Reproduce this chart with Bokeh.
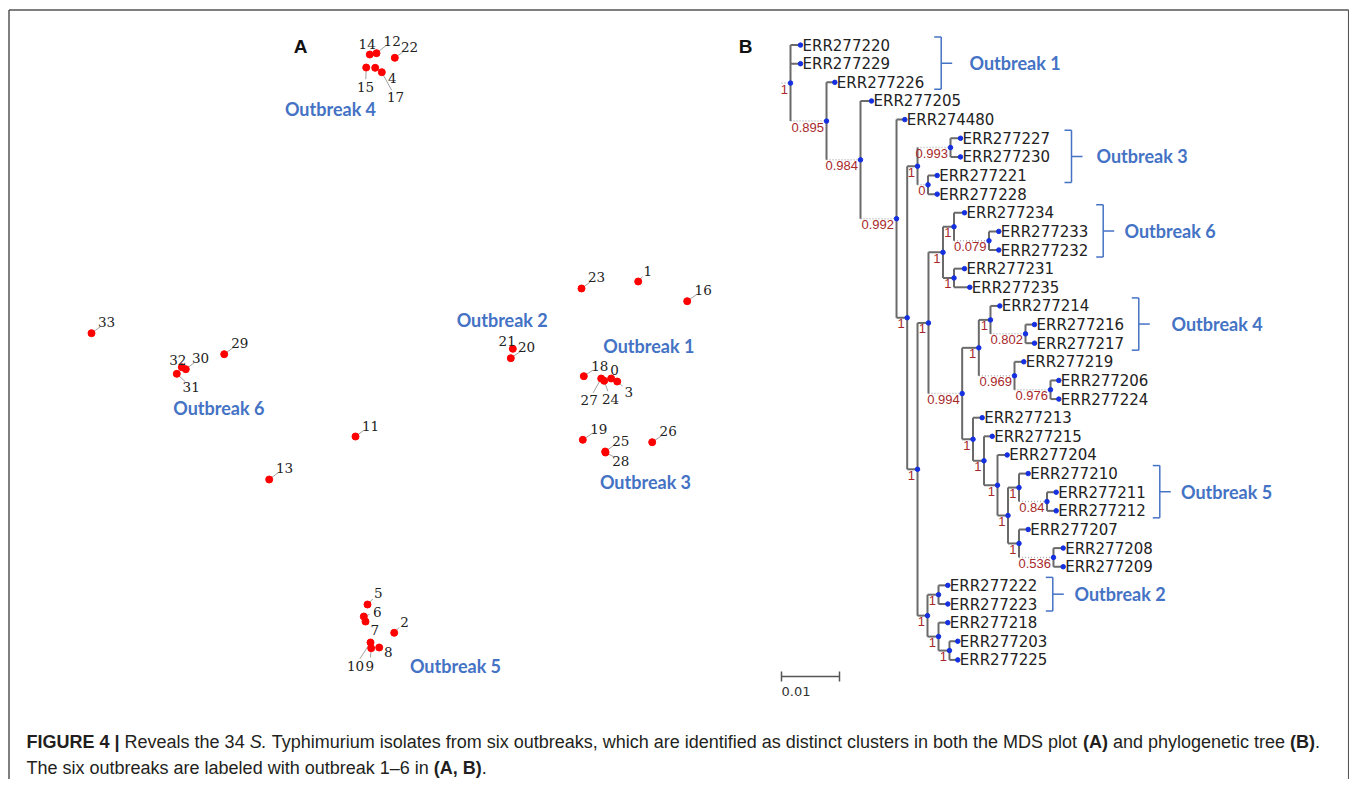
from bokeh.plotting import figure
from bokeh.models import Range1d
from bokeh.core.properties import value
from bokeh.embed import file_html
from bokeh.resources import INLINE

# ---------------- Panel A : MDS coordinates ----------------
mds_id = [str(i) for i in range(34)]
mds_x = [610.7, 637.7, 393.7, 616.7, 374.7, 367.0, 363.3, 365.0, 378.7, 370.7,
         370.0, 355.0, 376.0, 268.7, 369.3, 365.7, 686.7, 381.3, 583.3, 582.3,
         510.3, 512.3, 394.3, 581.0, 603.7, 604.7, 651.7, 600.7, 605.0, 223.7,
         185.3, 176.3, 181.3, 91.0]
mds_y = [378.0, 281.0, 632.3, 381.0, 67.3, 604.0, 616.0, 621.0, 647.0, 647.7,
         642.0, 436.0, 52.7, 479.0, 54.0, 67.0, 300.7, 71.7, 375.7, 439.3,
         357.7, 348.3, 57.3, 288.0, 380.3, 451.0, 441.7, 378.0, 452.0, 353.7,
         368.7, 373.3, 366.7, 332.7]

outbreak_A_names = ["Outbreak 1", "Outbreak 2", "Outbreak 3", "Outbreak 4", "Outbreak 5", "Outbreak 6"]

# ---------------- Panel B : phylogenetic tree ----------------
leaf_names = ["ERR277220", "ERR277229", "ERR277226", "ERR277205", "ERR274480",
              "ERR277227", "ERR277230", "ERR277221", "ERR277228", "ERR277234",
              "ERR277233", "ERR277232", "ERR277231", "ERR277235", "ERR277214",
              "ERR277216", "ERR277217", "ERR277219", "ERR277206", "ERR277224",
              "ERR277213", "ERR277215", "ERR277204", "ERR277210", "ERR277211",
              "ERR277212", "ERR277207", "ERR277208", "ERR277209", "ERR277222",
              "ERR277223", "ERR277218", "ERR277203", "ERR277225"]
leaf_depth = [0.00172, 0.00172, 0.00764, 0.01397, 0.01971,
              0.02931, 0.02931, 0.02529, 0.02529, 0.03000,
              0.03591, 0.03591, 0.03000, 0.03091, 0.03609,
              0.04207, 0.04207, 0.04022, 0.04626, 0.04626,
              0.03305, 0.03478, 0.03736, 0.04098, 0.04581,
              0.04581, 0.04098, 0.04702, 0.04702, 0.02712,
              0.02712, 0.02712, 0.02884, 0.02884]
leaf_parent = ["R", "R", "N1", "N2", "N3",
               "Na", "Na", "Nb", "Nb", "N11",
               "N13", "N13", "N12", "N12", "N16",
               "N18", "N18", "N17", "N19", "N19",
               "N15", "N20", "N21", "N23", "N25",
               "N25", "N24", "N26", "N26", "N27",
               "N27", "N28", "N29", "N29"]

node_names = ["R", "N1", "N2", "N3", "N4", "N5", "Na", "Nb", "N6", "N7", "N8",
              "N9", "N10", "N11", "N12", "N13", "N14", "N15", "N16", "N17", "N18",
              "N19", "N20", "N21", "N22", "N23", "N24", "N25", "N26", "N27", "N28", "N29"]
node_parent = [None, "R", "N1", "N2", "N3", "N4", "N5", "N5", "N4", "N6", "N6",
               "N7", "N7", "N9", "N9", "N11", "N10", "N10", "N14", "N14", "N16",
               "N17", "N15", "N20", "N21", "N22", "N22", "N23", "N24", "N8", "N8", "N28"]
node_depth = [0.0, 0.00621, 0.01207, 0.01828, 0.02012, 0.02190, 0.02759, 0.02371, 0.02190, 0.02379, 0.02362,
              0.02629, 0.02960, 0.02819, 0.02819, 0.03422, 0.03247, 0.03147, 0.03448, 0.03862, 0.04052,
              0.04483, 0.03336, 0.03569, 0.03750, 0.03940, 0.03940, 0.04422, 0.04534, 0.02552, 0.02552, 0.02741]
node_support = ["1", "0.895", "0.984", "0.992", "1", "1", "0.993", "0", "1", "1", "1",
                "1", "0.994", "1", "1", "0.079", "1", "1", "1", "0.969", "0.802",
                "0.976", "1", "1", "1", "1", "1", "0.84", "0.536", "1", "1", "1"]

bracket_names = ["Outbreak 1", "Outbreak 3", "Outbreak 6", "Outbreak 4", "Outbreak 5", "Outbreak 2"]
bracket_first = [0, 5, 9, 14, 23, 29]
bracket_last = [2, 7, 11, 16, 25, 30]

scale_bar_value = 0.01

caption_line1 = [("FIGURE 4 | ", "bold"), ("Reveals the 34 ", "normal"), ("S.", "italic"),
                 (" Typhimurium isolates from six outbreaks, which are identified as distinct clusters in both the MDS plot ", "normal"),
                 ("(A)", "bold"), (" and phylogenetic tree ", "normal"), ("(B)", "bold"), (".", "normal")]
caption_line2 = [("The six outbreaks are labeled with outbreak 1\u20136 in ", "normal"), ("(A, B)", "bold"), (".", "normal")]

# ---------------- layout / style ----------------
W, H = 1349, 779
p = figure(width=W, height=H, x_range=Range1d(0, W), y_range=Range1d(H, 0),
           output_backend="svg", toolbar_location=None, min_border=0,
           x_axis_type=None, y_axis_type=None)
p.outline_line_color = None
p.background_fill_color = "white"
p.border_fill_color = "white"

# frame
p.segment(x0=[8.5, 8.5, 1348.2], y0=[800, 9.5, 9.5], x1=[8.5, 1348.2, 1348.2], y1=[9.5, 9.5, 800],
          line_color="#555555", line_width=1.5)

BLUE_TXT = "#4472C4"
SERIF = value("DejaVu Serif")

# ---- panel A ----
lab_dx = [3.3, 9.6, 10.3, 11.6, 17, 10.7, 13.4, 9.3, 9, -1.4, -15, 15, 15.7, 15.3, -2.6, -0.7, 16,
          13.7, 16, 16, 15.7, -5.6, 14.7, 15, 6.3, 15.6, 16, -12, 15.3, 15.6, 14.7, 14.4, -4, 15]
lab_dy = [-9, -11, -11.3, 10, 10.4, -11.3, -5, 8, 4.7, 17.3, 23, -11, -12.7, -11.7, -11, 19.7, -11.4,
          25, -10.7, -11, -11, -8.3, -10.6, -11.3, 18, -11, -11, 21.3, 8, -11.4, -11.4, 13.4, -7.4, -11]
lx0, ly0, lx1, ly1 = [], [], [], []
for x, y, dx, dy in zip(mds_x, mds_y, lab_dx, lab_dy):
    d = (dx * dx + dy * dy) ** 0.5
    if d > 11:
        f = (d - 8) / d
        lx0.append(x); ly0.append(y); lx1.append(x + dx * f); ly1.append(y + dy * f)
p.segment(x0=lx0, y0=ly0, x1=lx1, y1=ly1, line_color="#a0a0a0", line_width=1)
p.scatter(x=mds_x, y=mds_y, size=7, fill_color="#ff0000", line_color="#ff0000")
p.text(x=[x + dx for x, dx in zip(mds_x, lab_dx)], y=[y + dy for y, dy in zip(mds_y, lab_dy)],
       text=mds_id, text_font=SERIF, text_font_size=value("13.5px"), text_color="#222222",
       text_align="center", text_baseline="middle")

obA_x = [648.3, 501.7, 645.0, 330.0, 455.0, 218.3]
obA_y = [345.7, 319.0, 481.7, 108.0, 665.7, 407.7]
p.text(x=obA_x, y=obA_y, text=outbreak_A_names, text_font=value("Lato"), text_font_style="bold",
       text_font_size=value("18px"), text_color=BLUE_TXT, text_align="center", text_baseline="middle")

p.text(x=[300, 745], y=[46, 46], text=["A", "B"], text_font=value("Liberation Sans"),
       text_font_style="bold", text_font_size=value("19px"), text_color="#111111",
       text_align="center", text_baseline="middle")

# ---- panel B ----
TX0, TSCALE = 790.0, 5800.0
LY0, LSTEP = 44.6, 18.63

leaf_x = [TX0 + d * TSCALE for d in leaf_depth]
leaf_y = [LY0 + i * LSTEP for i in range(len(leaf_names))]
nx = {n: TX0 + d * TSCALE for n, d in zip(node_names, node_depth)}
children = {n: [] for n in node_names}
for i, par in enumerate(leaf_parent):
    children[par].append(("leaf", i))
for n, par in zip(node_names, node_parent):
    if par is not None:
        children[par].append(("node", n))

ny = {}
def child_y(c):
    return leaf_y[c[1]] if c[0] == "leaf" else node_y(c[1])
def node_y(n):
    if n not in ny:
        ys = [child_y(c) for c in children[n]]
        ny[n] = (min(ys) + max(ys)) / 2
    return ny[n]
for n in node_names:
    node_y(n)

# vertical lines
vx, vy0, vy1 = [], [], []
for n in node_names:
    ys = [child_y(c) for c in children[n]]
    vx.append(nx[n]); vy0.append(min(ys)); vy1.append(max(ys))
# horizontal branches
sx0, sx1, sy = [], [], []
dx0, dx1, dy_ = [], [], []
for i, par in enumerate(leaf_parent):
    sx0.append(nx[par]); sx1.append(leaf_x[i]); sy.append(leaf_y[i])
for n, par, sup in zip(node_names, node_parent, node_support):
    if par is None:
        dx0.append(nx[n] - 9); dx1.append(nx[n]); dy_.append(ny[n])
    elif sup != "1":
        dx0.append(nx[par]); dx1.append(nx[n]); dy_.append(ny[n])
    else:
        sx0.append(nx[par]); sx1.append(nx[n]); sy.append(ny[n])

TREE = "#6a6a6a"
p.segment(x0=dx0, y0=dy_, x1=dx1, y1=dy_, line_color="#b4b4b4", line_width=1.5, line_dash="1 2")
p.segment(x0=vx, y0=vy0, x1=vx, y1=vy1, line_color=TREE, line_width=2)
p.segment(x0=sx0, y0=sy, x1=sx1, y1=sy, line_color=TREE, line_width=2)

all_x = [nx[n] for n in node_names] + leaf_x
all_y = [ny[n] for n in node_names] + leaf_y
p.scatter(x=all_x, y=all_y, size=4.5, fill_color="#1530e0", line_color="#1530e0")

p.text(x=[x + 2 for x in leaf_x], y=[y + 0.5 for y in leaf_y], text=leaf_names,
       text_font=value("DejaVu Sans"), text_font_size=value("15px"), text_color="#222222",
       text_align="left", text_baseline="middle")
p.text(x=[nx[n] - 2.5 for n in node_names], y=[ny[n] + 1.5 for n in node_names], text=node_support,
       text_font=value("Liberation Sans"), text_font_size=value("13px"), text_color="#a8282a",
       text_align="right", text_baseline="top")

# outbreak brackets
br_x = [940.7, 1071.0, 1102.7, 1138.3, 1159.3, 1052.3]
br_tx = [969.0, 1096.0, 1124.0, 1171.0, 1180.5, 1074.0]
bx0, by0, bx1, by1 = [], [], [], []
bty = []
for x, a, b in zip(br_x, bracket_first, bracket_last):
    top = leaf_y[a] - 8
    bot = leaf_y[b] + 7
    mid = (top + bot) / 2
    bty.append(mid)
    bx0 += [x - 7, x, x - 7, x]
    by0 += [top, top, bot, mid]
    bx1 += [x, x, x, x + 11]
    by1 += [top, bot, bot, mid]
p.segment(x0=bx0, y0=by0, x1=bx1, y1=by1, line_color=BLUE_TXT, line_width=1.5)
p.text(x=br_tx, y=bty, text=bracket_names, text_font=value("Lato"), text_font_style="bold",
       text_font_size=value("18px"), text_color=BLUE_TXT, text_align="left", text_baseline="middle")

# scale bar
sb_x0, sb_y = 781.0, 676.0
sb_x1 = sb_x0 + scale_bar_value * TSCALE
p.segment(x0=[sb_x0, sb_x0, sb_x1], y0=[sb_y, sb_y - 5, sb_y - 5], x1=[sb_x1, sb_x0, sb_x1],
          y1=[sb_y, sb_y + 5, sb_y + 5], line_color="#555555", line_width=1.5)
p.text(x=[sb_x0], y=[691], text=[f"{scale_bar_value:.2f}"], text_font=value("DejaVu Sans"),
       text_font_size=value("13px"), text_color="#333333", text_align="left", text_baseline="middle")

# ---- caption ----
REG = {' ': 278, '(': 333, ')': 333, ',': 278, '.': 278, '|': 260, '\u2013': 556,
       'A': 667, 'B': 667, 'C': 722, 'D': 722, 'E': 667, 'F': 611, 'G': 778, 'H': 722, 'I': 278,
       'M': 833, 'R': 722, 'S': 667, 'T': 611, 'U': 722,
       'a': 556, 'b': 556, 'c': 500, 'd': 556, 'e': 556, 'f': 278, 'g': 556, 'h': 556, 'i': 222,
       'j': 222, 'k': 500, 'l': 222, 'm': 833, 'n': 556, 'o': 556, 'p': 556, 'q': 556, 'r': 333,
       's': 500, 't': 278, 'u': 556, 'v': 500, 'w': 722, 'x': 500, 'y': 500, 'z': 500}
BOLD = dict(REG)
BOLD.update({'|': 280, 'A': 722, 'B': 722, 'R': 722, 'U': 722})
CAP_SIZE = 18.0

def put_line(segs, x, y):
    for txt, style in segs:
        table = BOLD if style == "bold" else REG
        lead = len(txt) - len(txt.lstrip(" "))
        core = txt.strip(" ")
        xs = x + lead * 278 / 1000 * CAP_SIZE
        p.text(x=[xs], y=[y], text=[core], text_font=value("Liberation Sans"),
               text_font_style=style, text_font_size=value(f"{CAP_SIZE}px"), text_color="#231f20",
               text_align="left", text_baseline="middle")
        x += sum(table.get(c, 556) for c in txt) / 1000 * CAP_SIZE

put_line(caption_line1, 26, 741)
put_line(caption_line2, 26, 767)

open("out.html", "w").write(file_html(p, INLINE))
